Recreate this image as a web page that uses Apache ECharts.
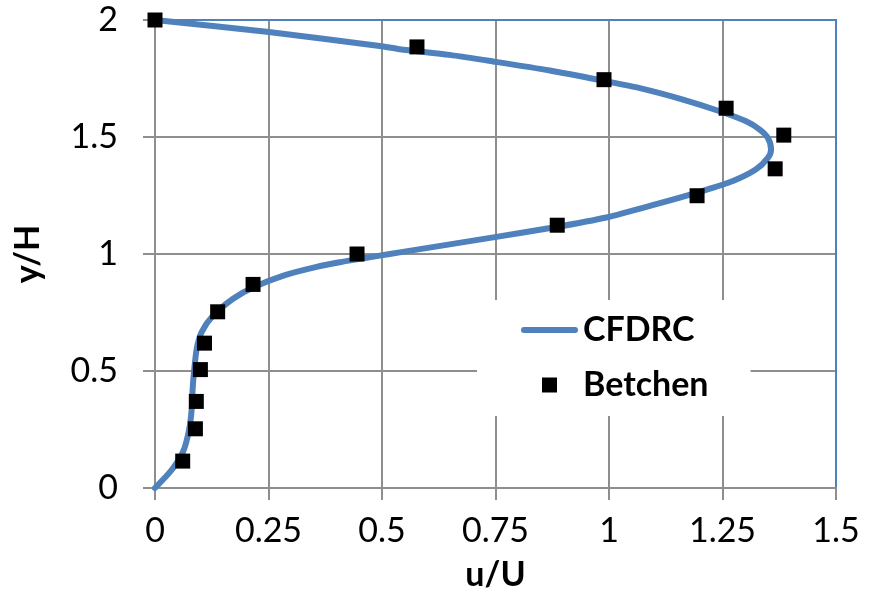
<!DOCTYPE html>
<html>
<head>
<meta charset="utf-8">
<script src="https://cdn.jsdelivr.net/npm/echarts@6/dist/echarts.min.js"></script>
<style>
  html, body { margin: 0; padding: 0; background: #fff; }
  #chart { width: 869px; height: 597px; }
</style>
</head>
<body>
<div id="chart"></div>
<script>
// Velocity profile: computed curve (CFDRC) vs. reference data (Betchen)
const cfdrcU = [0, 0.037, 0.062, 0.075, 0.081, 0.083, 0.086, 0.092, 0.103, 0.128, 0.172, 0.217,
  0.283, 0.356, 0.407, 0.437, 0.495, 0.539, 0.649, 0.745, 0.877, 0.994, 1.104, 1.207, 1.273,
  1.324, 1.350, 1.357, 1.350, 1.332, 1.302, 1.244, 1.163, 1.068, 0.994, 0.870, 0.745, 0.649,
  0.539, 0.495, 0.246, 0];
const cfdrcY = [0, 0.078, 0.156, 0.248, 0.340, 0.426, 0.498, 0.596, 0.667, 0.737, 0.809, 0.858,
  0.908, 0.945, 0.965, 0.975, 0.993, 1.007, 1.041, 1.071, 1.113, 1.156, 1.213, 1.270, 1.312,
  1.362, 1.411, 1.447, 1.496, 1.532, 1.567, 1.610, 1.660, 1.709, 1.738, 1.784, 1.823, 1.851,
  1.875, 1.889, 1.950, 2.0];

const betchenU = [0, 0.577, 0.989, 1.258, 1.385, 1.366, 1.194, 0.886, 0.445, 0.216, 0.138,
  0.109, 0.100, 0.091, 0.089, 0.061];
const betchenY = [2.0, 1.885, 1.745, 1.623, 1.508, 1.364, 1.249, 1.123, 1.0, 0.870, 0.753,
  0.619, 0.506, 0.370, 0.253, 0.115];

const xTicks = { min: 0, max: 1.5, interval: 0.25 };
const yTicks = { min: 0, max: 2, interval: 0.5 };

const FONT = 'Lato';
const GRID_GRAY = '#8E8E8E';
const BLUE = '#4F81BD';

const chart = echarts.init(document.getElementById('chart'), null, { renderer: 'canvas' });

const pair = (xs, ys) => xs.map((x, i) => [x, ys[i]]);

// frame lines on the top and right edges of the plot
const frameAxis = {
  axisLine: { show: true, onZero: false, lineStyle: { color: BLUE, width: 2 } },
  axisTick: { show: false },
  axisLabel: { show: false },
  splitLine: { show: false }
};

const tickFmt = v => String(+v.toFixed(2));

chart.setOption({
  animation: false,
  backgroundColor: '#fff',
  grid: { left: 155, right: 33, top: 20, bottom: 107, show: false },
  xAxis: [{
    type: 'value',
    min: xTicks.min, max: xTicks.max, interval: xTicks.interval,
    name: 'u/U', nameLocation: 'middle', nameGap: 70,
    nameTextStyle: { fontFamily: FONT, fontWeight: 'bold', fontSize: 34, color: '#000' },
    axisLine: { show: true, onZero: false, lineStyle: { color: GRID_GRAY, width: 2 } },
    axisTick: { show: true, inside: false, length: 12, lineStyle: { color: GRID_GRAY, width: 2 } },
    axisLabel: { margin: 26, fontFamily: FONT, fontSize: 34, color: '#000', formatter: tickFmt },
    splitLine: { show: true, lineStyle: { color: GRID_GRAY, width: 2 } }
  }, Object.assign({
    type: 'value', position: 'top',
    min: xTicks.min, max: xTicks.max, interval: xTicks.interval
  }, frameAxis)],
  yAxis: [{
    type: 'value',
    min: yTicks.min, max: yTicks.max, interval: yTicks.interval,
    name: 'y/H', nameLocation: 'middle', nameGap: 110, nameRotate: 90,
    nameTextStyle: { fontFamily: FONT, fontWeight: 'bold', fontSize: 34, color: '#000' },
    axisLine: { show: true, onZero: false, lineStyle: { color: GRID_GRAY, width: 2 } },
    axisTick: { show: true, inside: false, length: 12, lineStyle: { color: GRID_GRAY, width: 2 } },
    axisLabel: { margin: 37, fontFamily: FONT, fontSize: 34, color: '#000', formatter: tickFmt },
    splitLine: { show: true, lineStyle: { color: GRID_GRAY, width: 2 } }
  }, Object.assign({
    type: 'value', position: 'right',
    min: yTicks.min, max: yTicks.max, interval: yTicks.interval
  }, frameAxis)],
  legend: {
    orient: 'vertical',
    left: 477, top: 300,
    padding: [10, 42, 11, 44],
    backgroundColor: '#fff',
    itemWidth: 57, itemHeight: 15, itemGap: 15,
    textStyle: { fontFamily: FONT, fontWeight: 'bold', fontSize: 34, color: '#000', lineHeight: 40 },
    data: [
      { name: 'CFDRC', icon: 'path://M3,0L54,0A3,3,0,0,1,54,6L3,6A3,3,0,0,1,3,0Z' },
      { name: 'Betchen', icon: 'path://M0,0L1,0L1,1L0,1Z' }
    ]
  },
  series: [{
    name: 'CFDRC',
    type: 'line',
    data: pair(cfdrcU, cfdrcY),
    symbol: 'none',
    smooth: 0.25,
    lineStyle: { color: BLUE, width: 6, cap: 'round', join: 'round' },
    itemStyle: { color: BLUE },
    z: 3
  }, {
    name: 'Betchen',
    type: 'scatter',
    data: pair(betchenU, betchenY),
    symbol: 'rect',
    symbolSize: 15,
    itemStyle: { color: '#000', opacity: 1 },
    z: 4
  }]
});
</script>
</body>
</html>
